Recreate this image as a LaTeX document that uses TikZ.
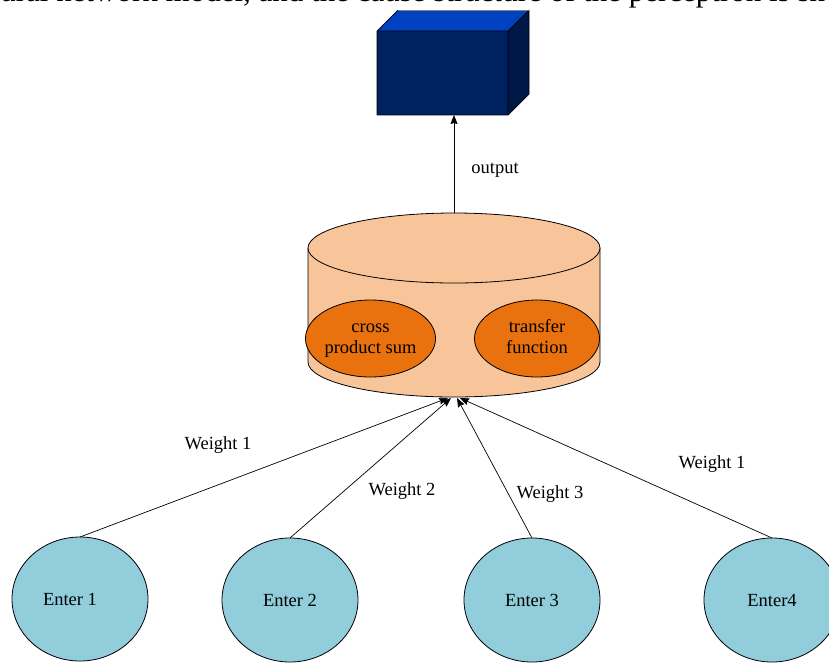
\documentclass[tikz,border=0pt]{standalone}
\usepackage{fontspec}
\setmainfont{Liberation Serif}
\usetikzlibrary{shapes.geometric,arrows.meta}
\definecolor{boxfront}{RGB}{0,33,96}
\definecolor{boxtop}{RGB}{0,65,194}
\definecolor{boxside}{RGB}{0,24,72}
\definecolor{cylfill}{RGB}{248,197,154}
\definecolor{innerfill}{RGB}{233,113,14}
\definecolor{enterfill}{RGB}{146,205,220}
\begin{document}
\begin{tikzpicture}[x=1pt,y=-1pt,
  font=\fontsize{18.5}{21}\selectfont,
  line width=0.8pt,
  enterstyle/.style={ellipse,draw=black,fill=enterfill,inner sep=0pt,outer sep=0pt,
    minimum width=136pt,minimum height=124pt},
  innerstyle/.style={ellipse,draw=black,fill=innerfill,inner sep=0pt,outer sep=0pt,
    minimum width=125pt,minimum height=77pt,align=center},
  lbl/.style={inner sep=0pt},
  conn/.style={draw=black,line width=0.7pt,-{Stealth[length=9pt,width=7pt,inset=1pt]}}]
\clip (0,0) rectangle (829,662);
\useasboundingbox (0,0) rectangle (829,662);
% cropped caption line at the top
\node[anchor=base west,inner sep=0pt,font=\fontsize{31}{36}\selectfont] (caption) at (0,1)
  {ural network model, and the cause structure of the perceptron is sh};
% output box
\fill[boxfront] (377,31) rectangle (508,115);
\fill[boxtop] (377,31) -- (398,10) -- (529,10) -- (508,31) -- cycle;
\fill[boxside] (508,31) -- (529,10) -- (529,94) -- (508,115) -- cycle;
\draw[black,line width=0.7pt,line join=round] (377,31) rectangle (508,115)
  (377,31) -- (398,10) (508,31) -- (529,10) -- (529,94) -- (508,115);
\draw[gray,line width=0.9pt] (398,10) -- (529,10);
\coordinate (boxbot) at (454,115);
% cylinder
\filldraw[fill=cylfill,draw=black] (308,248) -- (308,362)
  arc[start angle=180,end angle=360,x radius=146pt,y radius=35pt] -- (600,248);
\filldraw[fill=cylfill,draw=black] (454,248) ellipse[x radius=146pt,y radius=35pt];
\coordinate (cyltop) at (454,213);
\node[innerstyle] (cps) at (370.5,338.5) {\raisebox{-3pt}{\begin{tabular}{@{}c@{}}cross\\product sum\end{tabular}}};
\node[innerstyle] (tf) at (537,338.5) {\raisebox{-1pt}{\begin{tabular}{@{}c@{}}transfer\\function\end{tabular}}};
% output arrow
\draw[conn] (cyltop) -- (boxbot);
\node[lbl] (outlbl) at (495,170) {output};
% inputs
\node[enterstyle] (e1) at (80,599) {Enter 1\hspace*{20pt}};
\node[enterstyle] (e2) at (290,600) {Enter 2};
\node[enterstyle] (e3) at (532,600) {Enter 3};
\node[enterstyle] (e4) at (772,600) {Enter4};
\coordinate (t1) at (448,398);
\coordinate (t2) at (451,398);
\coordinate (t3) at (457,398);
\coordinate (t4) at (460,398);
\draw[conn] (e1.north) -- (t1);
\draw[conn] (e2.north) -- (t2);
\draw[conn] (e3.north) -- (t3);
\draw[conn] (e4.north) -- (t4);
\node[lbl] (w1) at (218,445) {Weight 1};
\node[lbl] (w2) at (402,491) {Weight 2};
\node[lbl] (w3) at (550,494) {Weight 3};
\node[lbl] (w4) at (712,464) {Weight 1};
\end{tikzpicture}
\end{document}
